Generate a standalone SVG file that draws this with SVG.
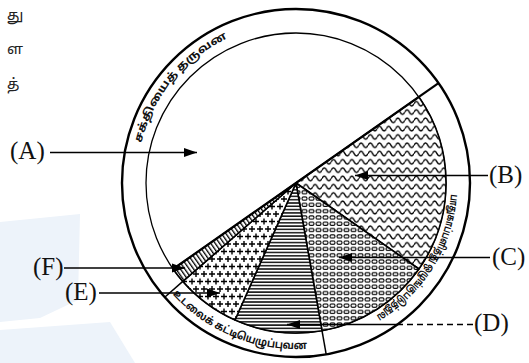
<svg xmlns="http://www.w3.org/2000/svg" width="529" height="363" viewBox="0 0 529 363">
<style>
.lbl{font-family:"Liberation Serif","Times New Roman",serif;font-size:25px;fill:#111}
.ring{font-family:"Noto Sans Tamil","Noto Sans",sans-serif;font-size:11px;font-weight:bold;fill:#111}
.frag{font-family:"Noto Sans Tamil","Noto Sans",sans-serif;font-size:15px;fill:#222}
.wedge{stroke:#000;stroke-width:1.6;stroke-linejoin:round}
.conn{stroke:#000;stroke-width:1.4;fill:none}
</style>
<defs>
<marker id="ah" markerUnits="userSpaceOnUse" markerWidth="14" markerHeight="10" refX="13" refY="5" orient="auto">
<path d="M0,0.5 L13,5 L0,9.5 z" fill="#000"/>
</marker>
<pattern id="pWave" patternUnits="userSpaceOnUse" width="9.2" height="8.3">
<rect width="9.2" height="8.3" fill="#fff"/>
<path d="M0,4.2 C1.5,1.2 3.1,1.2 4.6,4.2 S7.7,7.2 9.2,4.2" fill="none" stroke="#000" stroke-width="1.4"/>
</pattern>
<pattern id="pOval" patternUnits="userSpaceOnUse" width="7" height="6.3">
<rect width="7" height="6.3" fill="#fff"/>
<rect x="1" y="1.6" width="5" height="3.2" rx="1.5" fill="none" stroke="#000" stroke-width="1.1"/>
</pattern>
<pattern id="pLine" patternUnits="userSpaceOnUse" width="10" height="3.3">
<rect width="10" height="3.3" fill="#fff"/>
<rect y="1" width="10" height="1.4" fill="#000"/>
</pattern>
<pattern id="pPlus" patternUnits="userSpaceOnUse" width="8" height="15">
<rect width="8" height="15" fill="#fff"/>
<path d="M1,4 h6 M4,1 v6 M-3,11.5 h6 M0,8.5 v6 M5,11.5 h6 M8,8.5 v6" stroke="#000" stroke-width="1.4"/>
</pattern>
<pattern id="pHatch" patternUnits="userSpaceOnUse" width="3.6" height="10" patternTransform="rotate(-35)">
<rect width="3.6" height="10" fill="#fff"/>
<rect width="1.3" height="10" fill="#000"/>
</pattern>
<path id="tpA" d="M141.3,142.9 A158,158 0 0 1 236.0,34.6" fill="none"/>
<path id="tpB" d="M450.9,194.2 A155,155 0 0 1 374.5,316.5" fill="none"/>
<path id="tpC" d="M170.7,291.9 A166,166 0 0 0 316.2,347.8" fill="none"/>
</defs>

<g id="watermark" fill="#edf3fa">
<polygon points="0,222 80,214 78,300 40,318 0,322"/>
<polygon points="0,330 110,322 135,363 0,363"/>
</g>

<g id="fragments">
<text class="frag" x="7" y="20">து</text>
<text class="frag" x="7" y="54">ள</text>
<text class="frag" x="7" y="89">த்</text>
</g>

<g id="chart">
<circle cx="296" cy="183" r="174" fill="#fff" stroke="#000" stroke-width="2.4"/>
<circle cx="296" cy="183" r="150" fill="#fff" stroke="#000" stroke-width="1.3"/>
<g id="B"><path class="wedge" d="M296,183 L418.9,97.0 A150,150 0 0 1 418.9,269.0 Z" fill="url(#pWave)"/></g>
<g id="C"><path class="wedge" d="M296,183 L418.9,269.0 A150,150 0 0 1 322.0,330.7 Z" fill="url(#pOval)"/></g>
<g id="D"><path class="wedge" d="M296,183 L322.0,330.7 A150,150 0 0 1 235.0,320.0 Z" fill="url(#pLine)"/></g>
<g id="E"><path class="wedge" d="M296,183 L235.0,320.0 A150,150 0 0 1 182.8,281.4 Z" fill="url(#pPlus)"/></g>
<g id="F"><path class="wedge" d="M296,183 L182.8,281.4 A150,150 0 0 1 173.1,269.0 Z" fill="url(#pHatch)"/></g>
<g id="A"><path d="M438.5,83.2 L173.1,269.0" stroke="#000" stroke-width="2.2"/></g>
<line x1="322.0" y1="330.7" x2="326.2" y2="354.4" stroke="#000" stroke-width="1.5"/>
<line x1="182.8" y1="281.4" x2="164.7" y2="297.2" stroke="#000" stroke-width="1.5"/>
<text class="ring"><textPath href="#tpA" textLength="140" lengthAdjust="spacingAndGlyphs">சக்தியைத் தருவன</textPath></text>
<text class="ring"><textPath href="#tpB" textLength="158" lengthAdjust="spacingAndGlyphs">பாதுகாப்பளித்து ஒழுங்குபடுத்துவன</textPath></text>
<text class="ring"><textPath href="#tpC" startOffset="3" textLength="150" lengthAdjust="spacingAndGlyphs">உடலைக் கட்டியெழுப்புவன</textPath></text>
</g>

<g id="connectors">
<line class="conn" x1="50" y1="152.5" x2="197" y2="152.5" marker-end="url(#ah)"/>
<line class="conn" x1="488" y1="175.5" x2="355" y2="175.5" marker-end="url(#ah)"/>
<line class="conn" x1="490" y1="257.5" x2="339" y2="257.5" marker-end="url(#ah)"/>
<line class="conn" x1="473" y1="324.5" x2="397" y2="324.5" stroke-dasharray="6,4"/>
<line class="conn" x1="397" y1="324.5" x2="287" y2="324.5" marker-end="url(#ah)"/>
<line class="conn" x1="99" y1="293" x2="220" y2="293" marker-end="url(#ah)"/>
<line class="conn" x1="64" y1="268" x2="185" y2="268" marker-end="url(#ah)"/>
</g>

<g id="labels">
<text class="lbl" x="10" y="159">(A)</text>
<text class="lbl" x="489" y="183">(B)</text>
<text class="lbl" x="492" y="265">(C)</text>
<text class="lbl" x="474" y="331">(D)</text>
<text class="lbl" x="65" y="300">(E)</text>
<text class="lbl" x="33" y="275">(F)</text>
</g>
</svg>
